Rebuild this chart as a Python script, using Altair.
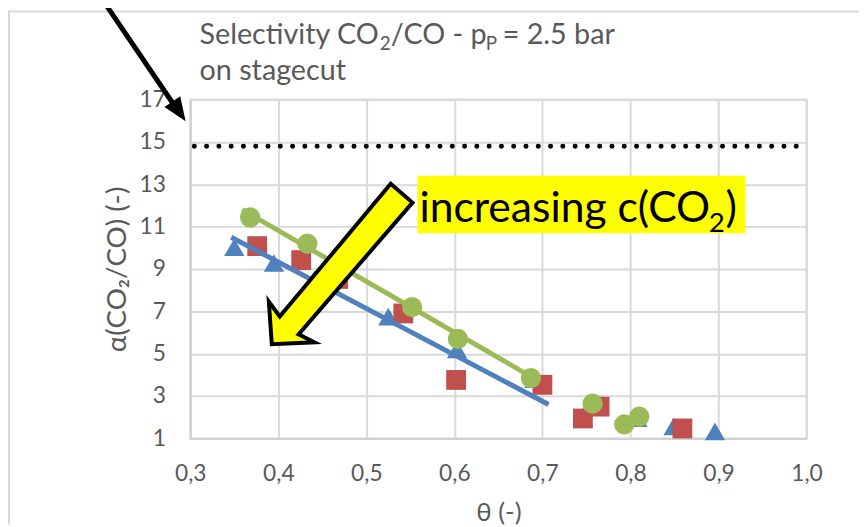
import altair as alt
import pandas as pd

# ---- data ----
x_tri = [0.350, 0.395, 0.441, 0.525, 0.603, 0.691, 0.756, 0.808, 0.849, 0.896]
y_tri = [10.03, 9.28, 8.50, 6.75, 5.20, 3.80, 2.70, 1.95, 1.56, 1.33]
x_sq = [0.376, 0.426, 0.468, 0.542, 0.602, 0.700, 0.746, 0.765, 0.859]
y_sq = [10.08, 9.42, 8.53, 6.90, 3.76, 3.53, 1.94, 2.50, 1.47]
x_ci = [0.368, 0.433, 0.552, 0.604, 0.687, 0.757, 0.793, 0.810]
y_ci = [11.43, 10.20, 7.20, 5.70, 3.85, 2.64, 1.66, 2.03]
trend_blue_x = [0.3465, 0.707]
trend_blue_y = [10.5, 2.6]
trend_green_x = [0.359, 0.690]
trend_green_y = [11.8, 3.85]
limit_y = [14.8]
x_ticks = [0.3, 0.4, 0.5, 0.6, 0.7, 0.8, 0.9, 1.0]
y_ticks = [1, 3, 5, 7, 9, 11, 13, 15, 17]

BLUE, RED, GREEN = "#4f81bd", "#c0504d", "#9bbb59"
GRAY_TXT = "#595959"
FONT = "Lato"

W, H = 622, 342
PAD = {"left": 184, "top": 90, "right": 53, "bottom": 87}

df_tri = pd.DataFrame({"x": x_tri, "y": y_tri})
df_sq = pd.DataFrame({"x": x_sq, "y": y_sq})
df_ci = pd.DataFrame({"x": x_ci, "y": y_ci})
df_tb = pd.DataFrame({"x": trend_blue_x, "y": trend_blue_y})
df_tg = pd.DataFrame({"x": trend_green_x, "y": trend_green_y})
df_lim = pd.DataFrame({"y": limit_y})
one = pd.DataFrame({"a": [0]})

common_axis = dict(grid=True, gridColor="#d9d9d9", gridWidth=2,
                   domainColor="#d0d0d0", domainWidth=2, ticks=False,
                   labelColor=GRAY_TXT, labelFont=FONT, labelFontSize=23,
                   titleColor=GRAY_TXT, titleFont=FONT, titleFontWeight="normal",
                   labelFlush=False, labelOverlap=False)

xs = alt.Scale(domain=[0.3, 1.0], nice=False, zero=False)
ys = alt.Scale(domain=[1, 17], nice=False, zero=False)
x_enc = alt.X("x:Q", scale=xs, title="θ (-)",
              axis=alt.Axis(values=x_ticks,
                            labelExpr="replace(format(datum.value, '.1f'), '.', ',')",
                            labelPadding=25, titleFontSize=26, titlePadding=14,
                            **common_axis))
y_enc = alt.Y("y:Q", scale=ys, title="α(CO₂/CO) (-)",
              axis=alt.Axis(values=y_ticks, format="d", labelPadding=25,
                            titleFontSize=28, titlePadding=8, **common_axis))

tri = alt.Chart(df_tri).mark_point(shape="triangle-up", filled=True, size=420,
                                   color=BLUE, opacity=1).encode(x=x_enc, y=y_enc)
sq = alt.Chart(df_sq).mark_point(shape="square", filled=True, size=400,
                                 color=RED, opacity=1).encode(x=x_enc, y=y_enc)
ci = alt.Chart(df_ci).mark_point(shape="circle", filled=True, size=420,
                                 color=GREEN, opacity=1).encode(x=x_enc, y=y_enc)
tb = alt.Chart(df_tb).mark_line(color=BLUE, strokeWidth=5).encode(x=x_enc, y=y_enc)
tg = alt.Chart(df_tg).mark_line(color=GREEN, strokeWidth=5).encode(x=x_enc, y=y_enc)

lim = alt.Chart(df_lim).mark_rule(color="black", strokeWidth=5, strokeCap="round",
                                  strokeDash=[0.1, 12.3]).encode(
    y=alt.Y("y:Q", scale=ys), x=alt.value(4), x2=alt.value(W - 2))

# chart-area border (top and left)
border_top = alt.Chart(one).mark_rule(color="#d9d9d9", strokeWidth=2).encode(
    x=alt.value(-PAD["left"]), x2=alt.value(W + PAD["right"]), y=alt.value(-PAD["top"] + 1))
border_left = alt.Chart(one).mark_rule(color="#d9d9d9", strokeWidth=2).encode(
    x=alt.value(-PAD["left"] + 1), y=alt.value(-PAD["top"]), y2=alt.value(H + PAD["bottom"]))

OX, OY = 192.7, 98.0  # absolute page position of plot origin


def px(v):
    return v - OX


def py(v):
    return v - OY


# black arrow
blk_line = alt.Chart(one).mark_rule(color="black", strokeWidth=5).encode(
    x=alt.value(px(106)), y=alt.value(py(0)), x2=alt.value(px(178)), y2=alt.value(py(106)))
blk_head = alt.Chart(one).mark_point(shape="M 1 0 L -1 -0.8 L -1 0.8 Z", size=576, angle=56,
                                     filled=True, color="black", opacity=1).encode(
    x=alt.value(px(181.3)), y=alt.value(py(110.0)))

# yellow block arrow
arrow_px = [(395, 183), (283, 317), (272, 302), (275, 345), (318, 343), (302, 335), (417, 202)]
cx, cy, s = 344.5, 264.0, 81.0
path = "M " + " L ".join(f"{(a - cx) / s:.4f} {(b - cy) / s:.4f}" for a, b in arrow_px) + " Z"
yarrow = alt.Chart(one).mark_point(shape=path, size=(2 * s) ** 2, filled=True, fill="#ffff00",
                                   stroke="black", strokeWidth=4, strokeJoin="miter",
                                   opacity=1, fillOpacity=1, strokeOpacity=1).encode(
    x=alt.value(px(cx)), y=alt.value(py(cy)))

# yellow label
lab_bg = alt.Chart(one).mark_rect(color="#ffff00", opacity=1).encode(
    x=alt.value(px(422)), x2=alt.value(px(753)), y=alt.value(py(175)), y2=alt.value(py(233)))


def txt(t, x, y, size, color="black", align="left"):
    return alt.Chart(one).mark_text(text=t, align=align, baseline="alphabetic", font=FONT,
                                    fontSize=size, color=color).encode(
        x=alt.value(px(x)), y=alt.value(py(y)))


lab1 = txt("increasing c(CO", 424, 222, 43)
lab2 = txt("2", 716, 232, 28)
lab3 = txt(")", 733, 222, 43)

T1 = 29
TS = 19
t_a = txt("Selectivity CO", 202, 42, T1, GRAY_TXT)
t_b = txt("2", 384, 48, TS, GRAY_TXT)
t_c = txt("/CO - p", 395, 42, T1, GRAY_TXT)
t_d = txt("P", 491, 48, TS, GRAY_TXT)
t_e = txt("= 2.5 bar", 508, 42, T1, GRAY_TXT)
t_f = txt("on stagecut", 202, 78, T1, GRAY_TXT)

chart = alt.layer(
    border_top, border_left, lim, tri, sq, tb, tg, ci,
    yarrow, lab_bg, lab1, lab2, lab3,
    t_a, t_b, t_c, t_d, t_e, t_f, blk_line, blk_head,
).properties(
    width=W, height=H, padding=PAD, autosize=alt.AutoSizeParams(type="none"),
    background="white",
).configure(font=FONT).configure_view(
    stroke="#d9d9d9", strokeWidth=2
)

chart.save("out.html", embed_options={"renderer": "svg", "actions": False})
